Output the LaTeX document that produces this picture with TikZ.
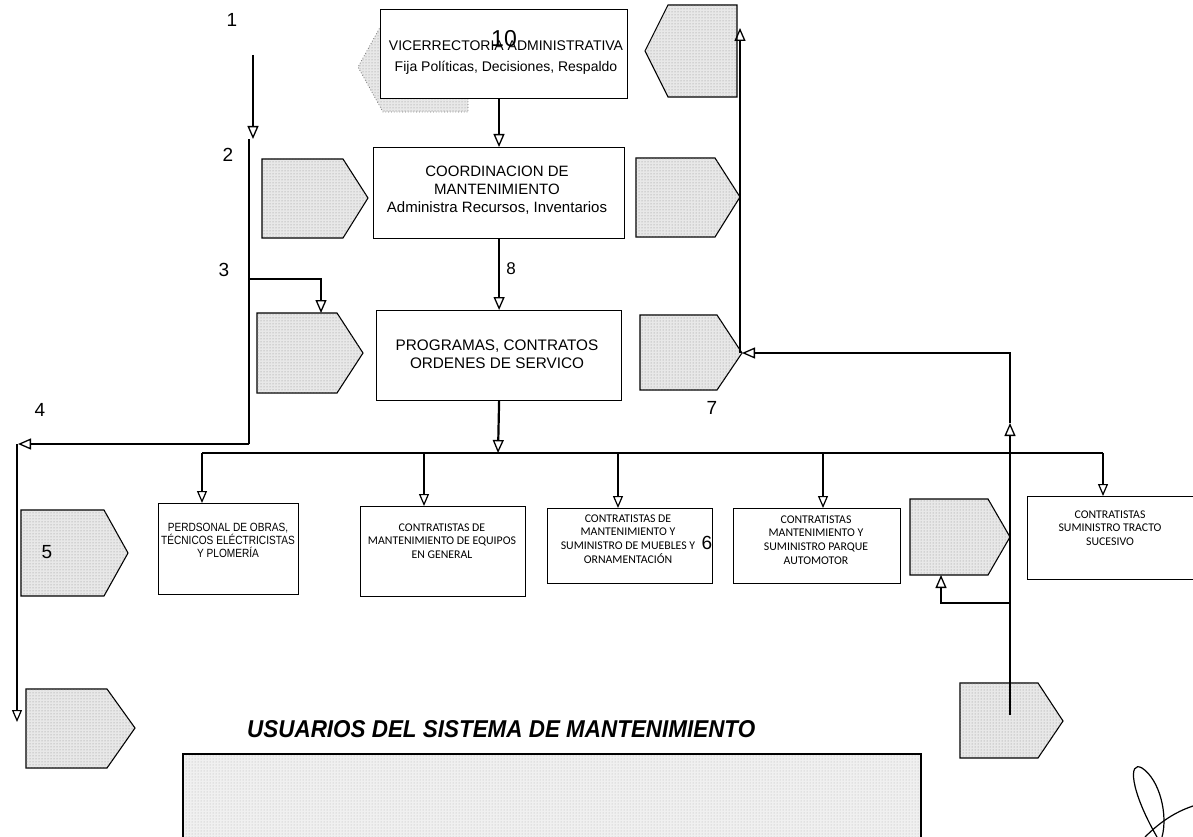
\documentclass[tikz,border=0pt]{standalone}
\usepackage{fontspec}
\usepackage{graphicx}
\setmainfont{Liberation Sans}
\newfontfamily\narfont[FakeStretch=0.85]{Liberation Sans}
\newfontfamily\calfont{Carlito}
\usetikzlibrary{arrows.meta,patterns}
\begin{document}
\begin{tikzpicture}[x=1pt,y=-1pt,
  pent/.style={fill=black!9, draw=black, line width=1.1pt, postaction={pattern=dots, pattern color=black!45}},
  box/.style={draw=black, line width=1.2pt, fill=white, inner sep=0pt, anchor=north west},
  arr/.style={-{Triangle[open,length=13pt,width=11pt,line width=1.3pt]}, line width=2.2pt},
  thin arr/.style={-{Triangle[open,length=12pt,width=10pt,line width=1.2pt]}, line width=1.8pt},
  wire/.style={line width=2pt},
  num/.style={font=\fontsize{19}{19}\selectfont, inner sep=0pt},
  toptext/.style={font=\fontsize{15.3}{18}\selectfont, align=center, inner sep=0pt},
  btext/.style={font=\calfont\fontsize{11.8}{13.6}\selectfont, align=center, inner sep=0pt},
]
\useasboundingbox (0,0) rectangle (1193,837);

% hidden pentagon behind the top box
\draw[pent, draw=black!55, line width=0.8pt, dotted] (468,22) -- (383,22) -- (358,67) -- (383,112) -- (468,112) -- cycle;
% pentagons
\draw[pent] (737,5) -- (668,5) -- (645,51) -- (668,97) -- (737,97) -- cycle;
\draw[pent] (262,159) -- (343,159) -- (368,198) -- (343,238) -- (262,238) -- cycle;
\draw[pent] (636,158) -- (715,158) -- (740,197) -- (715,237) -- (636,237) -- cycle;
\draw[pent] (257,313) -- (337,313) -- (363,353) -- (337,393) -- (257,393) -- cycle;
\draw[pent] (640,315) -- (717,315) -- (742,353) -- (717,390) -- (640,390) -- cycle;
\draw[pent] (21,510) -- (104,510) -- (128,553) -- (104,596) -- (21,596) -- cycle;
\draw[pent] (910,499) -- (988,499) -- (1010,537) -- (988,575) -- (910,575) -- cycle;
\draw[pent] (26,689) -- (107,689) -- (135,728) -- (107,768) -- (26,768) -- cycle;
\draw[pent] (960,683) -- (1038,683) -- (1063,721) -- (1038,758) -- (960,758) -- cycle;

% big bottom box
\fill[black!6, postaction={pattern=dots, pattern color=black!30}] (183,754) rectangle (921,837);
\draw[line width=1.6pt] (183,837) -- (183,754) -- (921,754) -- (921,837);

% main boxes
\node[box, minimum width=247pt, minimum height=89pt] (vice) at (380,9) {};
\node[box, minimum width=251pt, minimum height=91pt] (coord) at (373,147) {};
\node[box, minimum width=245pt, minimum height=90pt] (prog) at (376,310) {};
\node[box, minimum width=140pt, minimum height=91pt] (b1) at (158,503) {};
\node[box, minimum width=165pt, minimum height=90pt] (b2) at (360,506) {};
\node[box, minimum width=165pt, minimum height=75pt] (b3) at (547,508) {};
\node[box, minimum width=167pt, minimum height=75pt] (b4) at (733,508) {};
\node[box, minimum width=166pt, minimum height=83pt] (b6) at (1027,496) {};

% texts
\node[toptext, font=\fontsize{14}{21}\selectfont] (tvice) at (506,58) {VICERRECTORIA ADMINISTRATIVA\\Fija Políticas, Decisiones, Respaldo};
\node[num, font=\fontsize{23}{23}\selectfont] (n10) at (504,39) {10};
\node[toptext, font=\fontsize{15}{18}\selectfont] (tcoord) at (497,190) {COORDINACION DE\\MANTENIMIENTO\\Administra Recursos, Inventarios};
\node[toptext] (tprog) at (497,354) {PROGRAMAS, CONTRATOS\\ORDENES DE SERVICO};
\node[btext, font=\narfont\fontsize{11.9}{13}\selectfont] (tb1) at (228,540) {PERDSONAL DE OBRAS,\\TÉCNICOS ELÉCTRICISTAS\\Y PLOMERÍA};
\node[btext] (tb2) at (442,541) {CONTRATISTAS DE\\MANTENIMIENTO DE EQUIPOS\\EN GENERAL};
\node[btext] (tb3) at (628,539) {CONTRATISTAS DE\\MANTENIMIENTO Y\\SUMINISTRO DE MUEBLES Y\\ORNAMENTACIÓN};
\node[btext] (tb4) at (816,540) {CONTRATISTAS\\MANTENIMIENTO Y\\SUMINISTRO PARQUE\\AUTOMOTOR};
\node[btext] (tb6) at (1110,528) {CONTRATISTAS\\SUMINISTRO TRACTO\\SUCESIVO};
\node[inner sep=0pt, anchor=base west] (title) at (247,737) {\resizebox{508pt}{17pt}{\bfseries\itshape USUARIOS DEL SISTEMA DE MANTENIMIENTO}};

% numbers
\node[num] (n1) at (232,20) {1};
\node[num] (n2) at (228,155) {2};
\node[num] (n3) at (224,270) {3};
\node[num] (n4) at (40,410) {4};
\node[num] (n5) at (47,552) {5};
\node[num] (n7) at (712,408) {7};
\node[num, font=\fontsize{17}{17}\selectfont] (n8) at (511,269) {8};
\node[num] (n6) at (707,543) {6};

% coordinates for connector ends
\coordinate (s1) at (253,55);
\coordinate (s2) at (253,139);
\coordinate (v2) at (249,139);
\coordinate (v3) at (249,279);
\coordinate (v4) at (249,444);
\coordinate (p5top) at (321,313);
\coordinate (l4) at (18,444);
\coordinate (l5) at (17,444);
\coordinate (l6) at (17,722);
\coordinate (bus) at (498,453);
\coordinate (busL) at (202,453);
\coordinate (busR) at (1103,453);
\coordinate (d2) at (424,453);
\coordinate (d3) at (618,453);
\coordinate (d4) at (823,453);
\coordinate (r0) at (1010,715);
\coordinate (r1) at (1010,423);
\coordinate (r2) at (1010,353);
\coordinate (p6tip) at (742,353);
\coordinate (u0) at (740,353);
\coordinate (u1) at (740,28);
\coordinate (q0) at (1010,603);
\coordinate (q1) at (941,575);

% top column connectors
\draw[arr] (vice.south -| 499,0) -- (coord.north -| 499,0);
\draw[arr] (coord.south) -- (prog.north);
\draw[arr] (prog.south) -- (bus);

% bus and drops
\draw[line width=1.6pt] (busL) -- (busR);
\draw[thin arr] (busL) -- (busL |- b1.north);
\draw[thin arr] (d2) -- (d2 |- b2.north);
\draw[thin arr] (d3) -- (d3 |- b3.north);
\draw[thin arr] (d4) -- (d4 |- b4.north);
\draw[thin arr] (busR) -- (busR |- b6.north);

% left side
\draw[arr] (s1) -- (s2);
\draw[wire] (v2) -- (v4);
\draw[arr, line width=2.8pt] (v3) -| (p5top);
\draw[arr] (v4) -- (l4);
\draw[thin arr] (l5) -- (l6);

% right side
\draw[arr, line width=2.4pt] (r0) -- (r1);
\draw[arr, line width=2.4pt] (r1) -- (r2) -- (p6tip);
\draw[arr, line width=2.4pt] (u0) -- (u1);
\draw[arr, line width=2.8pt] (q0) -| (q1);

% signature
\draw[line width=1.2pt] (1157,837) .. controls (1130,790) and (1128,760) .. (1142,768) .. controls (1160,780) and (1168,815) .. (1162,837);
\draw[line width=1.2pt] (1145,837) .. controls (1160,822) and (1175,812) .. (1193,806);
\end{tikzpicture}
\end{document}
